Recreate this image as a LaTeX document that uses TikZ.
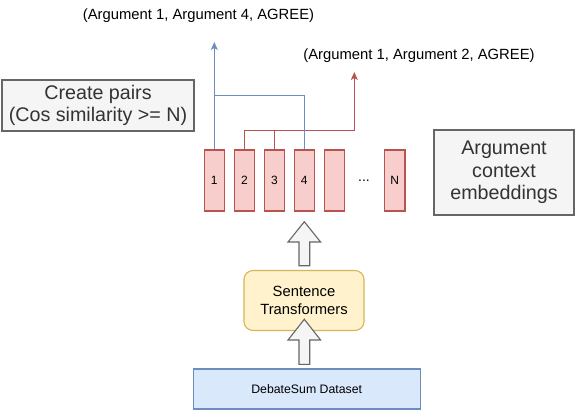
\documentclass[tikz,border=0pt]{standalone}
\usepackage{fontspec}
\setmainfont{Liberation Sans}
\usetikzlibrary{arrows.meta}
\definecolor{redfill}{HTML}{F8CECC}
\definecolor{redline}{HTML}{B85450}
\definecolor{blueline}{HTML}{6C8EBF}
\definecolor{bluefill}{HTML}{DAE8FC}
\definecolor{greyfill}{HTML}{F5F5F5}
\definecolor{greyline}{HTML}{666666}
\definecolor{greytext}{HTML}{333333}
\definecolor{yellowfill}{HTML}{FFF2CC}
\definecolor{yellowline}{HTML}{D6B656}
\tikzset{
  embbox/.style={draw=redline, fill=redfill, line width=1.1pt, minimum width=20.5pt, minimum height=61pt, inner sep=0pt, font=\fontsize{12}{14}\selectfont},
  greybox/.style={draw=greyline, fill=greyfill, line width=1.1pt, text=greytext, align=center, inner sep=0pt, font=\fontsize{19.7}{22.3}\selectfont},
  pairlabel/.style={inner sep=0pt, font=\fontsize{14.8}{17}\selectfont},
  bluelink/.style={draw=blueline, line width=1pt},
  redlink/.style={draw=redline, line width=1pt},
  bigarrow/.style={draw=greyline, fill=greyfill, line width=1.1pt, line join=miter},
}
\begin{document}
\begin{tikzpicture}[x=1pt,y=-1pt,>={Stealth[length=8pt,width=7pt,inset=2pt]}]
\useasboundingbox (0,0) rectangle (575,410);
% boxes on the sides
\node[greybox, minimum width=192pt, minimum height=51pt] (pairs) at (98,105.5) {Create pairs\\(Cos similarity >= N)};
\node[greybox, minimum width=140pt, minimum height=85pt] (embed) at (504,172.5) {Argument\\context\\embeddings};
% embeddings
\node[embbox] (e1) at (214.3,180.5) {1};
\node[embbox] (e2) at (244.5,180.5) {2};
\node[embbox] (e3) at (274.4,180.5) {3};
\node[embbox] (e4) at (304.3,180.5) {4};
\node[embbox] (e5) at (334.3,180.5) {};
\node[embbox] (eN) at (394.7,180.5) {N};
\node[font=\fontsize{14}{16}\selectfont] (dots) at (364,181) {...};
% pairs
\node[pairlabel] (agree14) at (198.5,16) {(Argument 1, Argument 4, AGREE)};
\node[pairlabel] (agree12) at (419,56) {(Argument 1, Argument 2, AGREE)};
\coordinate (tip14) at (214.3,42);
\coordinate (join14) at (214.3,95.7);
\coordinate (tip12) at (354.3,72);
\coordinate (join12) at (354.3,130);
\draw[redlink,->] (e2.north) |- (join12) -- (tip12);
\draw[redlink] (e3.north) -- (e3.north |- join12);
\draw[bluelink,->] (e1.north) -- (tip14);
\draw[bluelink] (e4.north) |- (join14);
% model and data
\node[draw=yellowline, fill=yellowfill, line width=1.1pt, rounded corners=9pt, minimum width=120pt, minimum height=60pt, align=center, font=\fontsize{14.8}{18.3}\selectfont] (st) at (304,300.5) {Sentence\\Transformers};
\node[draw=blueline, fill=bluefill, line width=1.1pt, minimum width=226.7pt, minimum height=40pt, font=\fontsize{12.3}{14}\selectfont] (ds) at (306.7,389) {DebateSum Dataset};
\draw[bigarrow] (299,265.7) -- (299,242) -- (288,242) -- (304.3,221.7) -- (320.6,242) -- (309.7,242) -- (309.7,265.7) -- cycle;
\draw[bigarrow] (299,364.3) -- (299,340) -- (288,340) -- (304.3,319.3) -- (320.6,340) -- (309.7,340) -- (309.7,364.3) -- cycle;
\end{tikzpicture}
\end{document}
